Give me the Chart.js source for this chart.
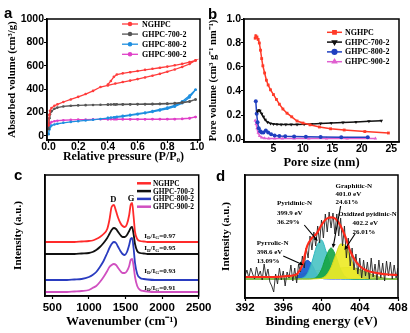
<!DOCTYPE html>
<html><head><meta charset="utf-8">
<script src="https://cdn.jsdelivr.net/npm/chart.js@4.4.1/dist/chart.umd.min.js"></script>
<style>
html,body{margin:0;padding:0;background:#fff;}
body{position:relative;width:410px;height:333px;overflow:hidden;}
canvas{position:absolute;}
.pl{position:absolute;font:bold 15px "Liberation Sans",Arial,sans-serif;line-height:15px;color:#000;}
</style></head><body>
<canvas id="ca" width="205" height="165" style="left:0;top:0"></canvas>
<canvas id="cb" width="205" height="170" style="left:205px;top:0"></canvas>
<canvas id="cc" width="215" height="168" style="left:0;top:165px"></canvas>
<canvas id="cd" width="205" height="168" style="left:205px;top:165px"></canvas>
<div class="pl" style="left:4px;top:5px">a</div>
<div class="pl" style="left:208px;top:6px">b</div>
<div class="pl" style="left:14px;top:167px">c</div>
<div class="pl" style="left:216px;top:168px">d</div>
<script>
const SANS='"Liberation Sans", Arial, Helvetica, sans-serif';
const SERIF='"Liberation Serif", "Times New Roman", Times, serif';

/* ---------- panel a : N2 isotherms ---------- */
const A_NAMES=['NGHPC','GHPC-700-2','GHPC-800-2','GHPC-900-2'];
const P_ADS=[0.001,0.005,0.01,0.02,0.04,0.06,0.1,0.15,0.2,0.25,0.3,0.35,0.4,0.45,0.5,0.55,0.6,0.65,0.7,0.75,0.8,0.85,0.9,0.95,0.99];
const P_DES=[0.99,0.95,0.9,0.85,0.8,0.75,0.7,0.65,0.6,0.55,0.5,0.46,0.44,0.42,0.4];
const A_NGHPC_ADS=[90,180,215,238,258,270,290,312,334,358,385,418,432,448,461,473,486,500,515,531,549,568,590,615,646];
const A_NGHPC_DES=[646,632,616,604,593,583,574,565,555,545,535,525,505,470,440];
const A_700_ADS=[60,150,185,210,232,242,252,258,261,263,265,266,267,268,268,269,270,270,271,272,274,277,283,293,312];
const A_700_DES=[312,296,287,281,277,275,274,273,272,271,271,270,270,269,269];
const A_800_ADS=[15,55,75,88,98,104,112,120,126,132,138,145,152,158,166,175,184,194,205,218,232,250,280,330,395];
const A_800_DES=[395,345,295,262,242,226,212,200,190,180,171,164,160,157,154];
const A_900_ADS=[70,95,108,118,126,130,134,137,139,140,141,142,142,142,142,142,142,142,142,142,142,143,145,150,162];
const A_900_DES=[162,152,147,145,144,144,144,143,143,143,143,143,143,143,143];
const A_XTICKS=[0,0.2,0.4,0.6,0.8,1.0];
const A_YTICKS=[0,200,400,600,800,1000];

/* ---------- panel b : pore size distribution ---------- */
const B_NAMES=['NGHPC','GHPC-700-2','GHPC-800-2','GHPC-900-2'];
const B_X_NGHPC=[1.9,2.0,2.2,2.4,2.6,2.8,3.0,3.2,3.5,3.8,4.1,4.5,5.0,5.5,6.0,6.6,7.3,8.1,9.0,10.0,11.2,12.8,14.7,17.0,20.5,24.5];
const B_Y_NGHPC=[0.84,0.86,0.85,0.83,0.80,0.74,0.67,0.61,0.55,0.49,0.45,0.41,0.37,0.33,0.29,0.25,0.215,0.185,0.15,0.133,0.118,0.10,0.085,0.075,0.062,0.05];
const B_X_700=[2.3,2.5,2.7,3.0,3.3,3.6,4.0,4.5,5.0,5.6,6.3,7.1,8.0,9.0,10.2,11.5,13.0,14.8,16.8,19.0,21.2,23.3];
const B_Y_700=[0.23,0.24,0.235,0.21,0.185,0.16,0.14,0.13,0.125,0.122,0.12,0.12,0.12,0.121,0.123,0.126,0.129,0.133,0.137,0.142,0.147,0.152];
const B_X_800=[2.0,2.15,2.3,2.5,2.75,3.0,3.3,3.7,4.1,4.6,5.2,6.0,7.0,8.5,10.5,13.0,16.5,21.0];
const B_Y_800=[0.315,0.21,0.14,0.09,0.065,0.055,0.055,0.07,0.055,0.04,0.03,0.025,0.022,0.02,0.018,0.016,0.015,0.014];
const B_X_900=[1.9,2.05,2.2,2.4,2.65,3.0,3.5,4.2,5.2,6.5,8.5,11.0,14.0,17.5,22.3];
const B_Y_900=[0.155,0.125,0.09,0.055,0.025,0.012,0.007,0.005,0.005,0.004,0.004,0.004,0.004,0.004,0.004];
const B_XTICKS=[5,10,15,20,25];
const B_YTICKS=[0,0.2,0.4,0.6,0.8,1.0];

/* ---------- panel c : Raman ---------- */
const C_NAMES=['NGHPC','GHPC-700-2','GHPC-800-2','GHPC-900-2'];
const WN=[400,500,600,700,800,900,1000,1050,1100,1150,1200,1250,1280,1310,1340,1370,1400,1430,1460,1490,1520,1550,1570,1590,1610,1630,1660,1700,1750,1800,1900,2000,2100,2200,2300,2400,2500];
const C_NGHPC=[54,54,54,54,54,54.5,55,55.5,57,59,62,67,76,89,91,85,78,73,70,69,72,81,91,93,80,64,57,55,54.5,54,54,54,54,54,54,54,54];
const C_700=[42,42,42,42,42,42.5,43,44,46,49,53,58,62,66,68,67,64,61,59,59,61,65,68,69,62,52,45,43,42.5,42,42,42,42,42,42,42,42];
const C_800=[16,16,16,16,16.5,17,19,21,24,29,35,43,48,52,54,53,49,45,42,41,44,51,57,58,48,33,22,18,17,16.5,16,16,16,16,16,16,16];
const C_900=[4,4,4,4,4.5,5,6,8,10,14,19,25,29,31,32,31,28,25,23,23,25,30,36,37,30,19,10,6,5,4.5,4,4,4,4,4,4,4];
const C_RATIOS=['0.97','0.95','0.93','0.91'];
const C_XTICKS=[500,1000,1500,2000,2500];

/* ---------- panel d : N1s XPS ---------- */
const BE_RAW=[392.0,392.2,392.4,392.6,392.8,393.0,393.2,393.4,393.6,393.8,394.0,394.2,394.4,394.6,394.8,395.0,395.2,395.4,395.6,395.8,396.0,396.2,396.4,396.6,396.8,397.0,397.2,397.4,397.6,397.8,398.0,398.2,398.4,398.6,398.8,399.0,399.2,399.4,399.6,399.8,400.0,400.2,400.4,400.6,400.8,401.0,401.2,401.4,401.6,401.8,402.0,402.2,402.4,402.6,402.8,403.0,403.2,403.4,403.6,403.8,404.0,404.2,404.4,404.6,404.8,405.0,405.2,405.4,405.6,405.8,406.0,406.2,406.4,406.6,406.8,407.0,407.2,407.4,407.6,407.8,408.0];
const D_RAW=[22,28,20,30,24,19,31,22,27,18,34,21,29,16,12,6,24,14,30,18,27,12,26,20,33,17,30,15,34,26,42,30,50,40,62,48,66,52,72,55,78,60,84,66,86,70,85,64,84,62,80,52,72,40,60,32,50,28,44,24,40,20,38,22,36,19,40,21,34,18,38,20,35,17,37,22,36,19,33,20,30];
const BE_FIT=[392,393,394,395,396,396.5,397,397.5,398,398.5,399,399.5,400,400.5,401,401.5,402,402.5,403,403.5,404,404.5,405,406,407,408];
const D_ENVELOPE=[21,21,21,21,21.5,22,22.5,24.5,33,52,60,64.5,73,79,80.7,79,72,61,47,38,32,28.5,26.5,24.7,23.5,23];
const D_PYRROLIC=[19,19,19,19,19,19,19.3,21.6,29.5,37.7,33.6,24,19.7,19.1,19,19,19,19,19,19,19,19,19,19,19,19];
const D_PYRIDINIC=[19,19,19,19,19,19,19,19.2,20,24,36,52,58,46,30,22,19.5,19,19,19,19,19,19,19,19,19];
const D_GRAPHITIC=[19,19,19,19,19,19,19,19,19,19,19.3,21,28.5,42,50,42,28.5,21,19.3,19,19,19,19,19,19,19];
const D_OXIDIZED=[19,19,19,19,19,19,19,19,19,19,19,19.2,19.8,22.8,30.7,43.5,54,52.5,41,29,22,20,19.3,19,19,19];
const D_BROAD=[19,19,19,19,19.5,20,21,22.5,24,25.5,26.5,27.5,28,28.5,29,29.5,30,30.5,30.5,30,28.5,26.5,24.5,21,19.5,19];
const D_XTICKS=[392,396,400,404,408];

Chart.defaults.font.family=SANS;
Chart.defaults.color='#000';
Chart.defaults.animation=false;

function pairs(xs,ys){return xs.map((x,i)=>({x:x,y:ys[i]}));}
function iso(ads,des){return pairs(P_ADS,ads).concat(pairs(P_DES,des));}
function fixTicks(vals){return s=>{s.ticks=vals.map(v=>({value:v}));};}

function xAxis(o){return {type:'linear',position:'bottom',bounds:'data',min:o.min,max:o.max,
  afterBuildTicks:fixTicks(o.ticks),afterFit:s=>{s.height=o.h;},
  grid:{display:true,drawOnChartArea:false,drawTicks:true,tickLength:o.tl,tickWidth:1.2,tickColor:'#000',color:'#000'},
  border:{display:true,color:'#000',width:1.5},
  ticks:{display:true,autoSkip:false,maxRotation:0,minRotation:0,font:{family:SANS,weight:'bold',size:o.ts,lineHeight:1},color:'#000',padding:o.tp,callback:o.fmt},
  title:{display:true,text:o.title,color:'#000',font:{family:SERIF,weight:'bold',size:o.tt,lineHeight:1.2},padding:{top:0,bottom:o.tpb}}};}
function yAxis(o){return {type:'linear',position:'left',bounds:'data',min:o.min,max:o.max,
  afterBuildTicks:o.ticks?fixTicks(o.ticks):undefined,afterFit:s=>{s.width=o.w;},
  grid:{display:true,drawOnChartArea:false,drawTicks:!!o.ticks,tickLength:o.tl||0,tickWidth:1.2,tickColor:'#000',color:'#000'},
  border:{display:true,color:'#000',width:1.5},
  ticks:{display:!!o.ticks,autoSkip:false,font:{family:SANS,weight:'bold',size:o.ts||10,lineHeight:1},color:'#000',padding:o.tp||0,callback:o.fmt},
  title:{display:true,text:o.title,color:'#000',font:{family:SERIF,weight:'bold',size:o.tt,lineHeight:1.2},padding:{top:o.tpt,bottom:0}}};}

const framePlugin={id:'frame',afterDatasetsDraw(c){const a=c.chartArea,x=c.ctx;x.save();x.strokeStyle='#000';x.lineWidth=1.5;x.strokeRect(a.left,a.top,a.right-a.left,a.bottom-a.top);x.restore();}};

const legendPlugin={id:'legendBox',afterDraw(c,args,o){
  if(o.x===undefined)return;
  const ctx=c.ctx;ctx.save();
  ctx.font='bold '+o.size+'px '+SERIF;ctx.textBaseline='middle';ctx.textAlign='left';
  let row=0;
  c.data.datasets.forEach(d=>{
    if(d.inLegend===false)return;
    const y=o.y+row*o.dy;row++;
    ctx.strokeStyle=d.borderColor;ctx.lineWidth=o.lw||d.borderWidth;
    ctx.beginPath();ctx.moveTo(o.x,y);ctx.lineTo(o.x+o.len,y);ctx.stroke();
    if(o.marker&&d.pointRadius>0){
      ctx.fillStyle=d.borderColor;ctx.strokeStyle=d.borderColor;
      Chart.helpers.drawPoint(ctx,{pointStyle:d.pointStyle,radius:d.pointRadius+0.3,rotation:d.rotation||0,borderWidth:1},o.x+o.len/2,y);
    }
    ctx.fillStyle='#000';ctx.fillText(d.label,o.x+o.len+o.gap,y+0.5);
  });
  ctx.restore();}};

const notesPlugin={id:'notes',afterDatasetsDraw(c,args,o){
  if(!o.items)return;
  const ctx=c.ctx,xs=c.scales.x,ys=c.scales.y;ctx.save();
  ctx.fillStyle='#000';ctx.strokeStyle='#000';ctx.textBaseline='middle';
  for(const it of o.items){
    const px=xs.getPixelForValue(it.x),py=ys.getPixelForValue(it.y);
    if(it.type==='arrow'){
      const qx=xs.getPixelForValue(it.x2),qy=ys.getPixelForValue(it.y2);
      const ang=Math.atan2(qy-py,qx-px),h=4.5;
      ctx.lineWidth=1.1;ctx.beginPath();ctx.moveTo(px,py);ctx.lineTo(qx-Math.cos(ang)*3,qy-Math.sin(ang)*3);ctx.stroke();
      ctx.beginPath();ctx.moveTo(qx,qy);
      ctx.lineTo(qx-h*Math.cos(ang-0.45),qy-h*Math.sin(ang-0.45));
      ctx.lineTo(qx-h*Math.cos(ang+0.45),qy-h*Math.sin(ang+0.45));ctx.closePath();ctx.fill();
    }else if(it.type==='ratio'){
      const s=it.size,f='bold '+s+'px '+SERIF,fs='bold '+(s*0.72).toFixed(1)+'px '+SERIF;
      let x=px;ctx.textAlign='left';
      const part=(t,font,dy)=>{ctx.font=font;ctx.fillText(t,x,py+dy);x+=ctx.measureText(t).width;};
      part('I',f,0);part('D',fs,2);part('/I',f,0);part('G',fs,2);part('='+it.text,f,0);
    }else{
      ctx.font='bold '+it.size+'px '+SERIF;ctx.textAlign=it.align||'left';ctx.fillText(it.text,px,py);
    }
  }
  ctx.restore();}};

function base(o){return {responsive:false,animation:false,events:[],
  layout:{padding:o.padding},
  scales:{x:o.x,y:o.y},
  plugins:{legend:{display:false},tooltip:{enabled:false},legendBox:o.legend||{},notes:o.notes||{}}};}
const PLUGINS=[framePlugin,legendPlugin,notesPlugin];

/* ---------- chart a ---------- */
function aDs(label,data,color){return {label,data,borderColor:color,backgroundColor:color,borderWidth:1.3,pointRadius:1.3,pointBorderWidth:0,pointStyle:'circle',fill:false,tension:0};}
new Chart(document.getElementById('ca'),{type:'line',
  data:{datasets:[
    aDs(A_NAMES[0],iso(A_NGHPC_ADS,A_NGHPC_DES),'#ff3c3c'),
    aDs(A_NAMES[1],iso(A_700_ADS,A_700_DES),'#555555'),
    aDs(A_NAMES[2],iso(A_800_ADS,A_800_DES),'#1e8fe0'),
    aDs(A_NAMES[3],iso(A_900_ADS,A_900_DES),'#e040c8')]},
  options:base({padding:{top:19,right:5,left:0,bottom:0},
    x:xAxis({min:-0.01,max:1.02,ticks:A_XTICKS,fmt:v=>v.toFixed(1),h:25,ts:10.5,tl:3,tp:-1,title:'Relative pressure (P/P\u2080)',tt:12,tpb:1}),
    y:yAxis({min:-35,max:1000,ticks:A_YTICKS,fmt:v=>String(v),w:47,ts:10.5,tl:3,tp:0,title:'Absorbed volume (cm\u00b3/g)',tt:10.8,tpt:6}),
    legend:{x:122,y:24,dy:10.1,len:16,gap:4,size:8,marker:true}}),
  plugins:PLUGINS});

/* ---------- chart b ---------- */
function bDs(label,xs,ys,color,style,rot){return {label,data:pairs(xs,ys),borderColor:color,backgroundColor:color,borderWidth:1.5,pointRadius:2,pointBorderWidth:0,pointStyle:style,rotation:rot||0,fill:false,tension:0};}
new Chart(document.getElementById('cb'),{type:'line',
  data:{datasets:[
    bDs(B_NAMES[0],B_X_NGHPC,B_Y_NGHPC,'#ff3a28','rect'),
    bDs(B_NAMES[1],B_X_700,B_Y_700,'#111111','triangle',180),
    bDs(B_NAMES[2],B_X_800,B_Y_800,'#2040c0','circle'),
    bDs(B_NAMES[3],B_X_900,B_Y_900,'#e060d0','triangle')]},
  options:base({padding:{top:19,right:11,left:0,bottom:0},
    x:xAxis({min:0,max:26.3,ticks:B_XTICKS,fmt:v=>String(v),h:28,ts:10.5,tl:3,tp:-1,title:'Pore size (nm)',tt:12.5,tpb:0}),
    y:yAxis({min:-0.025,max:1.0,ticks:B_YTICKS,fmt:v=>v.toFixed(1),w:39,ts:10.5,tl:3,tp:0,title:'Pore volume (cm\u00b3 g\u207b\u00b9 nm\u207b\u00b9)',tt:10.5,tpt:2}),
    legend:{x:122,y:32.3,dy:9.8,len:15,gap:3,size:8,marker:true}}),
  plugins:PLUGINS});

/* ---------- chart c ---------- */
function cDs(label,ys,color){return {label,data:pairs(WN,ys),borderColor:color,borderWidth:1.8,pointRadius:0,fill:false,cubicInterpolationMode:'monotone'};}
new Chart(document.getElementById('cc'),{type:'line',
  data:{datasets:[
    cDs(C_NAMES[0],C_NGHPC,'#ff2a2a'),
    cDs(C_NAMES[1],C_700,'#111111'),
    cDs(C_NAMES[2],C_800,'#2a3cc0'),
    cDs(C_NAMES[3],C_900,'#d050c0')]},
  options:base({padding:{top:10,right:14,left:0,bottom:0},
    x:xAxis({min:400,max:2500,ticks:C_XTICKS,fmt:v=>String(v),h:37,ts:11.5,tl:3,tp:3.5,title:'Wavenumber (cm\u207b\u00b9)',tt:13,tpb:3.5}),
    y:yAxis({min:0,max:121,w:45,title:'Intensity (a.u.)',tt:11,tpt:11.5}),
    legend:{x:137,y:18.3,dy:7.8,len:14,gap:2,size:7.4,lw:2.5,marker:false},
    notes:{items:[
      {type:'text',x:1333,y:96.7,text:'D',size:8.5,align:'center'},
      {type:'text',x:1577,y:97.7,text:'G',size:8.5,align:'center'},
      {type:'ratio',x:1756,y:60.3,text:C_RATIOS[0],size:7},
      {type:'ratio',x:1756,y:47.7,text:C_RATIOS[1],size:7},
      {type:'ratio',x:1756,y:25,text:C_RATIOS[2],size:7},
      {type:'ratio',x:1756,y:8.3,text:C_RATIOS[3],size:7}]}}),
  plugins:PLUGINS});

/* ---------- chart d ---------- */
function fDs(label,ys,line,fillc,ord){return {label,data:pairs(BE_FIT,ys),borderColor:line,backgroundColor:fillc,borderWidth:1,pointRadius:0,fill:{value:19},tension:0.4,cubicInterpolationMode:'monotone',order:ord,inLegend:false};}
new Chart(document.getElementById('cd'),{type:'line',
  data:{datasets:[
    {label:'Envelope',data:pairs(BE_FIT,D_ENVELOPE),borderColor:'#ff2a1a',borderWidth:2.2,pointRadius:0,fill:false,cubicInterpolationMode:'monotone',order:0},
    {label:'Raw',data:pairs(BE_RAW,D_RAW),borderColor:'#222222',borderWidth:0.9,pointRadius:0,fill:false,tension:0,order:1},
    fDs('Oxidized pyidinic-N',D_OXIDIZED,'#d8d820','rgba(238,234,40,0.92)',2),
    fDs('Graphitic-N',D_GRAPHITIC,'#10a040','rgba(24,166,70,0.92)',3),
    fDs('Pyridinic-N',D_PYRIDINIC,'#30b8c0','rgba(76,196,196,0.92)',4),
    fDs('Pyrrolic-N',D_PYRROLIC,'#1a50c8','rgba(28,96,210,0.95)',5),
    fDs('Background',D_BROAD,'#a8c030','rgba(184,206,70,0.9)',6)]},
  options:base({padding:{top:10,right:12,left:0,bottom:0},
    x:xAxis({min:392,max:408,ticks:D_XTICKS,fmt:v=>String(v),h:35,ts:11.5,tl:3,tp:1.5,title:'Binding energy (eV)',tt:13,tpb:3.5}),
    y:yAxis({min:0,max:123,w:40,title:'Intensity (a.u.)',tt:11,tpt:15}),
    notes:{items:[
      {type:'text',x:401.47,y:112.3,text:'Graphitic-N',size:7},
      {type:'text',x:401.47,y:104,text:'401.0 eV',size:7},
      {type:'text',x:401.47,y:95.7,text:'24.61%',size:7},
      {type:'text',x:401.75,y:83.7,text:'Oxidized pyidinic-N',size:6.8},
      {type:'text',x:403.23,y:74.7,text:'402.2 eV',size:7},
      {type:'text',x:403.23,y:66.3,text:'26.01%',size:7},
      {type:'text',x:395.34,y:94.7,text:'Pyridinic-N',size:7},
      {type:'text',x:395.34,y:84.7,text:'399.9 eV',size:7},
      {type:'text',x:395.34,y:76.3,text:'36.29%',size:7},
      {type:'text',x:393.23,y:54.7,text:'Pyrrolic-N',size:7},
      {type:'text',x:393.23,y:45.7,text:'398.6 eV',size:7},
      {type:'text',x:393.23,y:37,text:'13.09%',size:7},
      {type:'arrow',x:396.0,y:42,x2:398.1,y2:33},
      {type:'arrow',x:398.2,y:73,x2:399.6,y2:57},
      {type:'arrow',x:402.0,y:92,x2:401.2,y2:50},
      {type:'arrow',x:403.5,y:64,x2:402.4,y2:48}]}}),
  plugins:PLUGINS});
</script></body></html>
